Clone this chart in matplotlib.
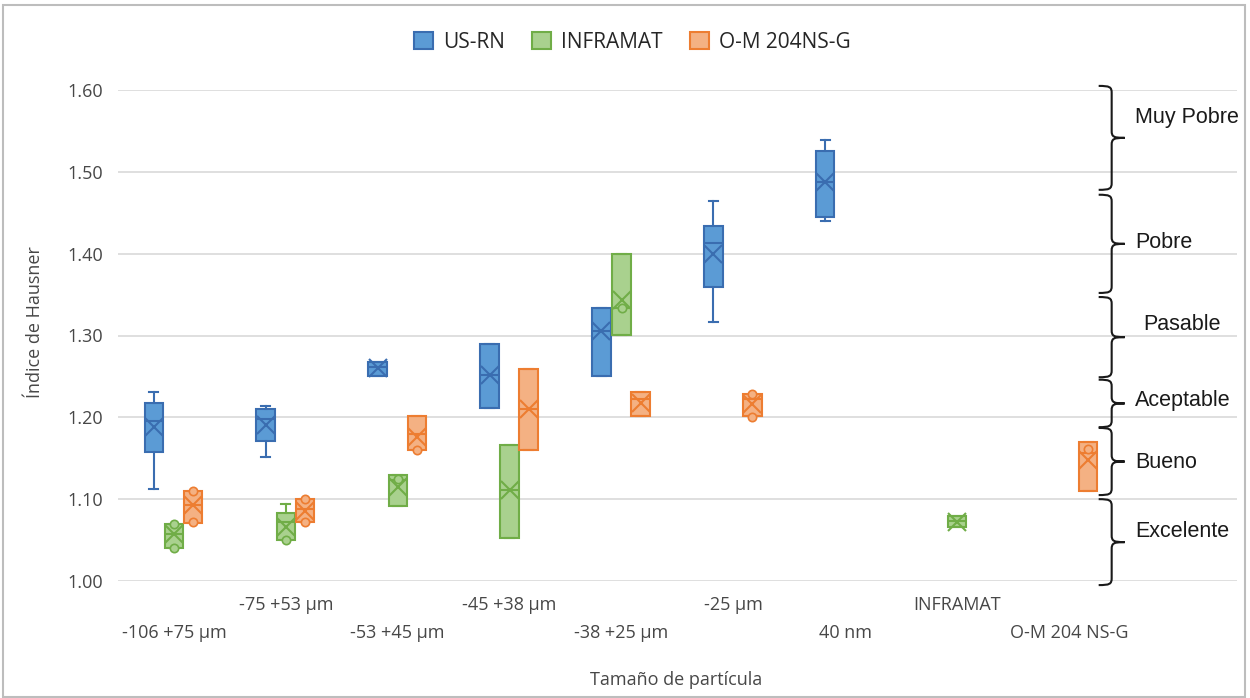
import numpy as np
import matplotlib
matplotlib.use("Agg")
import matplotlib.pyplot as plt
from matplotlib.patches import Patch, PathPatch, Rectangle
from matplotlib.path import Path

CATS = ["-106 +75 µm", "-75 +53 µm", "-53 +45 µm", "-45 +38 µm", "-38 +25 µm",
        "-25 µm", "40 nm", "INFRAMAT", "O-M 204 NS-G", ""]

# US-RN
us_pos    = [0, 1, 2, 3, 4, 5, 6]
us_lo     = [1.113, 1.152, 1.251, 1.212, 1.251, 1.316, 1.440]
us_q1     = [1.158, 1.171, 1.251, 1.212, 1.251, 1.359, 1.445]
us_med    = [1.195, 1.198, 1.262, 1.252, 1.306, 1.413, 1.487]
us_q3     = [1.218, 1.210, 1.268, 1.290, 1.334, 1.434, 1.525]
us_hi     = [1.231, 1.214, 1.268, 1.290, 1.334, 1.464, 1.539]
us_mean   = [1.188, 1.191, 1.260, 1.252, 1.306, 1.400, 1.487]
us_pts    = [[], [], [], [], [], [], []]

# INFRAMAT
inf_pos   = [0, 1, 2, 3, 4, 7]
inf_lo    = [1.040, 1.050, 1.092, 1.052, 1.301, 1.066]
inf_q1    = [1.040, 1.050, 1.092, 1.052, 1.301, 1.066]
inf_med   = [1.058, 1.072, 1.124, 1.111, 1.334, 1.073]
inf_q3    = [1.070, 1.083, 1.130, 1.166, 1.400, 1.080]
inf_hi    = [1.070, 1.094, 1.130, 1.166, 1.400, 1.080]
inf_mean  = [1.057, 1.066, 1.115, 1.111, 1.343, 1.072]
inf_pts   = [[1.040, 1.070], [1.050], [1.125], [], [1.334], []]

# O-M 204NS-G
om_pos    = [0, 1, 2, 3, 4, 5, 8]
om_lo     = [1.071, 1.072, 1.160, 1.160, 1.202, 1.202, 1.110]
om_q1     = [1.071, 1.072, 1.160, 1.160, 1.202, 1.202, 1.110]
om_med    = [1.093, 1.088, 1.180, 1.210, 1.222, 1.222, 1.157]
om_q3     = [1.110, 1.100, 1.202, 1.259, 1.231, 1.229, 1.170]
om_hi     = [1.110, 1.100, 1.202, 1.259, 1.231, 1.229, 1.170]
om_mean   = [1.093, 1.085, 1.176, 1.210, 1.218, 1.216, 1.148]
om_pts    = [[1.110, 1.072], [1.100, 1.072], [1.160], [], [], [1.229, 1.200], [1.161]]

# quality bands (Hausner classification)
BANDS      = ["Muy Pobre", "Pobre", "Pasable", "Aceptable", "Bueno", "Excelente"]
BAND_TOP   = [1.605, 1.472, 1.347, 1.246, 1.187, 1.100]
BAND_BOT   = [1.478, 1.352, 1.249, 1.188, 1.105, 0.995]
BAND_LABEL = [1.566, 1.414, 1.313, 1.221, 1.145, 1.060]

SERIES = [
    ("US-RN", us_pos, us_lo, us_q1, us_med, us_q3, us_hi, us_mean, us_pts, "#5B9BD5", "#3A6DB0", -0.18),
    ("INFRAMAT", inf_pos, inf_lo, inf_q1, inf_med, inf_q3, inf_hi, inf_mean, inf_pts, "#A9D18E", "#70AD47", 0.0),
    ("O-M 204NS-G", om_pos, om_lo, om_q1, om_med, om_q3, om_hi, om_mean, om_pts, "#F4B183", "#ED7D31", 0.17),
]

TXT = "#474747"
plt.rcParams["font.family"] = ["Open Sans", "DejaVu Sans"]

fig = plt.figure(figsize=(12.5, 6.98), dpi=100)
ax = fig.add_axes([118 / 1250, 1 - 581 / 698, 1119 / 1250, 491 / 698])

ax.set_ylim(1.0, 1.6)
ax.set_xlim(-0.5, len(CATS) - 0.5)
ax.set_yticks(np.arange(1.0, 1.61, 0.1))
ax.set_yticklabels([f"{v:.2f}" for v in np.arange(1.0, 1.61, 0.1)])
ax.grid(axis="y", color="#d9d9d9", lw=1.2)
ax.set_axisbelow(True)
for s in ax.spines.values():
    s.set_visible(False)
ax.tick_params(axis="both", length=0, labelsize=13, labelcolor=TXT)
ax.tick_params(axis="y", pad=11)

ax.set_xticks(range(len(CATS)))
ax.set_xticklabels(CATS)
for i, t in enumerate(ax.xaxis.get_major_ticks()):
    t.set_pad(11 if i % 2 else 31)

handles = []
for name, pos, lo, q1, med, q3, hi, mean, pts, fc, ec, off in SERIES:
    stats = [dict(whislo=a, q1=b, med=c, q3=d, whishi=e, mean=m, fliers=[])
             for a, b, c, d, e, m in zip(lo, q1, med, q3, hi, mean)]
    xs = [p + off for p in pos]
    ax.bxp(stats, positions=xs, widths=0.165, capwidths=0.08, patch_artist=True,
           showmeans=True, showfliers=False, manage_ticks=False,
           boxprops=dict(facecolor=fc, edgecolor=ec, lw=1.5),
           medianprops=dict(color=ec, lw=1.5),
           whiskerprops=dict(color=ec, lw=1.5),
           capprops=dict(color=ec, lw=1.5),
           meanprops=dict(marker="x", markeredgecolor=ec, markersize=13, markeredgewidth=1.5))
    for x, p in zip(xs, pts):
        if p:
            ax.plot([x] * len(p), p, "o", ms=6, mfc=fc, mec=ec, mew=1.2, zorder=5)
    handles.append(Patch(facecolor=fc, edgecolor=ec, lw=1.5, label=name))

fig.legend(handles=handles, loc="center", bbox_to_anchor=(0.506, 1 - 42 / 698), ncol=3,
           frameon=False, fontsize=15, handlelength=0.9, handleheight=0.9,
           handletextpad=0.5, columnspacing=1.3)
for t in fig.legends[0].get_texts():
    t.set_color("#262626")

# curly braces for the classification bands
ux, uy = 1 / 111.9, 0.1 / 81.83
bx = 8.38
h, r = 13, 7
for name, top, bot, ly in zip(BANDS, BAND_TOP, BAND_BOT, BAND_LABEL):
    ym = (top + bot) / 2
    verts = [
        (bx - h * ux, top),
        (bx - 2 * ux, top), (bx, top - 1 * uy), (bx, top - r * uy),
        (bx, ym + r * uy),
        (bx, ym + 1 * uy), (bx + 2 * ux, ym), (bx + h * ux, ym),
        (bx + 2 * ux, ym), (bx, ym - 1 * uy), (bx, ym - r * uy),
        (bx, bot + r * uy),
        (bx, bot + 1 * uy), (bx - 2 * ux, bot), (bx - h * ux, bot),
    ]
    codes = [Path.MOVETO, Path.CURVE4, Path.CURVE4, Path.CURVE4, Path.LINETO,
             Path.CURVE4, Path.CURVE4, Path.CURVE4, Path.CURVE4, Path.CURVE4, Path.CURVE4,
             Path.LINETO, Path.CURVE4, Path.CURVE4, Path.CURVE4]
    ax.add_patch(PathPatch(Path(verts, codes), fc="none", ec="#1a1a1a", lw=1.5, clip_on=False))
    lx = 8.66 if name == "Pasable" else 8.59
    ax.text(lx, ly, name, fontsize=15.5, family="Liberation Sans", color="#1a1a1a",
            va="center", ha="left")

fig.text(35 / 1250, 1 - 322 / 698, "Índice de Hausner", rotation=90, ha="center",
         va="center", fontsize=13, color=TXT)
fig.text(676 / 1250, 1 - 680 / 698, "Tamaño de partícula", ha="center", va="center",
         fontsize=13, color=TXT)

fig.patches.append(Rectangle((3 / 1250, 1 / 698), 1242 / 1250, 692 / 698,
                             transform=fig.transFigure, fill=False, ec="#bdbdbd", lw=1.5))

fig.savefig("out.png", dpi=100)
